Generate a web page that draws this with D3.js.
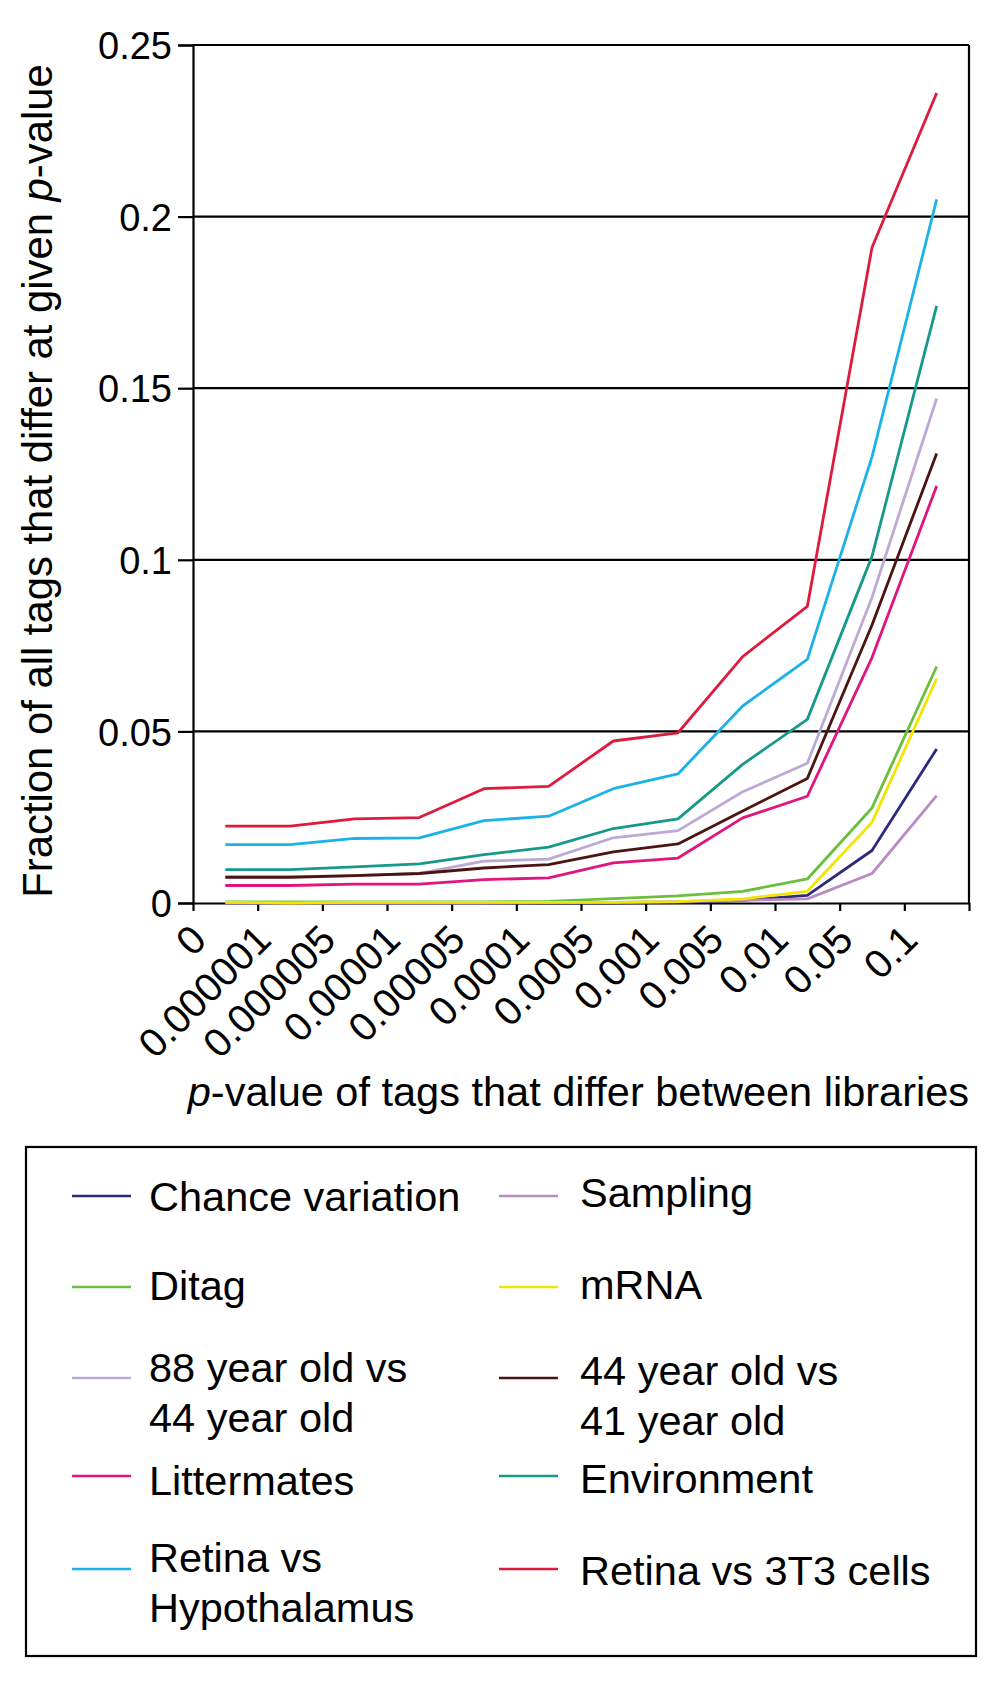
<!DOCTYPE html>
<html><head><meta charset="utf-8">
<script src="https://cdn.jsdelivr.net/npm/d3@7"></script>
<style>body{margin:0;background:#fff}svg{display:block}text{font-family:"Liberation Sans",Arial,Helvetica,sans-serif;fill:#000}</style>
</head><body>
<script>
const categories = ["0","0.000001","0.000005","0.00001","0.00005","0.0001","0.0005","0.001","0.005","0.01","0.05","0.1"];
const yTicks = [0,0.05,0.1,0.15,0.2,0.25];
const yTickLabels = ["0","0.05","0.1","0.15","0.2","0.25"];
const seriesNames = ["Chance variation","Sampling","Ditag","mRNA","88 year old vs\n44 year old","44 year old vs\n41 year old","Littermates","Environment","Retina vs\nHypothalamus","Retina vs 3T3 cells"];
const seriesColors = ["#2b2a7c","#b98bc2","#6abf3c","#f2e500","#bcaad6","#4b1410","#e0157f","#17998a","#1ab2e8","#de1b3d"];
const chance   = [0,0,0,0,0,0,0,0.0001,0.0008,0.0022,0.0153,0.0449];
const sampling = [0,0,0,0,0,0.0001,0.0002,0.0004,0.0008,0.0012,0.0086,0.0313];
const ditag    = [0.0003,0.0003,0.0003,0.0003,0.0003,0.0005,0.0013,0.0021,0.0034,0.0070,0.0277,0.0689];
const mrna     = [0.0002,0.0000,0.0002,0.0002,0.0002,0.0002,0.0002,0.0004,0.0012,0.0034,0.0235,0.0654];
const old88    = [0.0076,0.0076,0.0080,0.0086,0.0122,0.0128,0.0190,0.0211,0.0324,0.0407,0.089,0.147];
const old44    = [0.0075,0.0075,0.0080,0.0086,0.0102,0.0112,0.0149,0.0172,0.0268,0.0363,0.081,0.131];
const litter   = [0.0051,0.0051,0.0055,0.0055,0.0068,0.0073,0.0117,0.0131,0.0248,0.0311,0.0715,0.1215];
const environ  = [0.0097,0.0097,0.0105,0.0114,0.0141,0.0163,0.0217,0.0245,0.0404,0.0535,0.101,0.174];
const retHyp   = [0.0170,0.0170,0.0188,0.0190,0.0240,0.0253,0.0333,0.0376,0.0574,0.0710,0.130,0.205];
const ret3T3   = [0.0224,0.0224,0.0245,0.0249,0.0333,0.0340,0.0472,0.0496,0.0718,0.0864,0.191,0.236];
const seriesValues = [chance,sampling,ditag,mrna,old88,old44,litter,environ,retHyp,ret3T3];

const W=1000,H=1691;
const L=193,R=969,T=45,B=903;
const svg=d3.select("body").append("svg").attr("width",W).attr("height",H);
const x=d3.scaleLinear().domain([0,categories.length]).range([L,R]);
const y=d3.scaleLinear().domain([0,0.25]).range([B,T]);

// gridlines
svg.append("g").selectAll("line").data(yTicks.slice(1)).join("line")
  .attr("x1",L).attr("x2",R).attr("y1",d=>y(d)).attr("y2",d=>y(d))
  .attr("stroke","#000").attr("stroke-width",2.2);
// right border
svg.append("line").attr("x1",R).attr("x2",R).attr("y1",T).attr("y2",B).attr("stroke","#000").attr("stroke-width",2.2);

// y axis
const yAxis=d3.axisLeft(y).tickValues(yTicks).tickFormat((d,i)=>yTickLabels[i]).tickSize(15).tickPadding(6);
const gy=svg.append("g").attr("transform",`translate(${L},0)`).call(yAxis);
gy.select(".domain").attr("stroke","#000").attr("stroke-width",2.2);
gy.selectAll(".tick line").attr("stroke","#000").attr("stroke-width",2.2);
gy.selectAll(".tick text").style("font-size","38px").attr("dy","0.36em").attr("fill","#000");

// x axis
const xt=d3.range(categories.length+1);
const xAxis=d3.axisBottom(x).tickValues(xt).tickFormat(d=>categories[d]||"").tickSize(8).tickSizeOuter(0);
const gx=svg.append("g").attr("transform",`translate(0,${B})`).call(xAxis);
gx.select(".domain").attr("stroke","#000").attr("stroke-width",2.2);
gx.selectAll(".tick line").attr("stroke","#000").attr("stroke-width",2.2);
gx.selectAll(".tick text").style("font-size","40px").attr("fill","#000")
  .attr("text-anchor","end").attr("y",0).attr("dy",0)
  .attr("transform","translate(15,39) rotate(-45)");

// lines
const line=d3.line().x((d,i)=>x(i+0.5)).y(d=>y(d));
svg.append("g").selectAll("path").data(seriesValues).join("path")
  .attr("d",d=>line(d)).attr("fill","none")
  .attr("stroke",(d,i)=>seriesColors[i]).attr("stroke-width",2.8).attr("stroke-linejoin","round");

// axis titles
const yt=svg.append("text").attr("transform",`translate(52,481) rotate(-90)`).attr("text-anchor","middle").style("font-size","41.8px");
yt.append("tspan").text("Fraction of all tags that differ at given ");
yt.append("tspan").style("font-style","italic").text("p");
yt.append("tspan").text("-value");
const xtit=svg.append("text").attr("x",R).attr("y",1106).attr("text-anchor","end").style("font-size","41.5px");
xtit.append("tspan").style("font-style","italic").text("p");
xtit.append("tspan").text("-value of tags that differ between libraries");

// legend
svg.append("rect").attr("x",26).attr("y",1147).attr("width",950).attr("height",509).attr("fill","none").attr("stroke","#000").attr("stroke-width",2.2);
const rowsY=[1196,1287,1378,1476,1569];
const textBase=[[1211,1207],[1300,1299],[1382,1385],[1495,1493],[1572,1585]];
const colLineX=[72,499], colTextX=[149,580];
const leg=svg.append("g");
seriesNames.forEach((name,i)=>{
  const col=i%2,row=Math.floor(i/2);
  leg.append("line").attr("x1",colLineX[col]).attr("x2",colLineX[col]+59)
    .attr("y1",rowsY[row]).attr("y2",rowsY[row]).attr("stroke",seriesColors[i]).attr("stroke-width",2.6);
  const t=leg.append("text").attr("x",colTextX[col]).attr("y",textBase[row][col]).style("font-size","41.5px");
  name.split("\n").forEach((s,k)=>t.append("tspan").attr("x",colTextX[col]).attr("dy",k?50:0).text(s));
});
</script>
</body></html>
